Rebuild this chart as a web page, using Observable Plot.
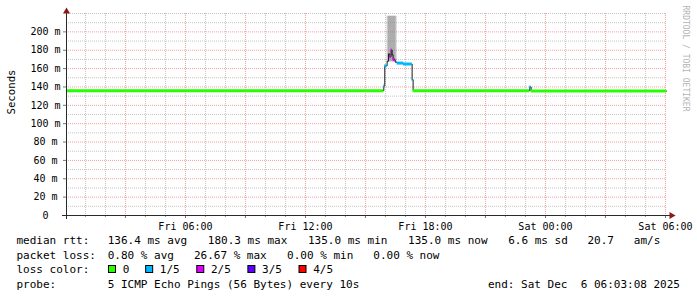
<!DOCTYPE html>
<html><head><meta charset="utf-8">
<script src="https://cdn.jsdelivr.net/npm/d3@7"></script>
<script src="https://cdn.jsdelivr.net/npm/@observablehq/plot@0.6"></script>
<style>
html,body{margin:0;padding:0;background:#fff;}
#chart{position:relative;width:697px;height:297px;overflow:hidden;background:#fff;}
#chart svg{display:block;}
.leg text{white-space:pre;font-family:"DejaVu Sans Mono",monospace;font-size:11px;fill:#000;}
</style></head><body><div id="chart"></div>
<script>
// ---- data ----
const rangeStart = "2025-12-05T00:03:08Z";
const rangeEnd = "2025-12-06T06:03:08Z";
const medianTimes = [
  "2025-12-05T00:03:08Z","2025-12-05T15:55:00Z","2025-12-05T15:58:00Z","2025-12-05T16:05:00Z",
  "2025-12-05T16:09:00Z","2025-12-05T16:13:00Z","2025-12-05T16:17:00Z","2025-12-05T16:20:00Z",
  "2025-12-05T16:23:00Z","2025-12-05T16:29:00Z","2025-12-05T16:35:00Z","2025-12-05T16:54:00Z",
  "2025-12-05T17:20:00Z","2025-12-05T17:23:00Z","2025-12-05T23:13:00Z","2025-12-05T23:17:00Z",
  "2025-12-06T06:03:08Z"
];
const medianMs = [136, 141, 163, 168, 176, 173, 180.3, 175, 170, 167, 166, 165, 148, 136, 140, 135.5, 135.5];
const medianLoss = [0, 1, 1, null, null, 2, 2, null, 2, null, 1, 1, 1, 0, 1, 0, 0];
const smokeStart = ["2025-12-05T16:05:00Z","2025-12-05T16:09:00Z"];
const smokeEnd = ["2025-12-05T16:35:00Z","2025-12-05T16:31:00Z"];
const smokeLowMs = [167, 168];
const smokeHighMs = [217, 217];
const lossColors = ["#26ff00","#00b8ff","#dd00ff","#5e00ff","#ff0000"];
const lossLabels = ["0","1/5","2/5","3/5","4/5"];
const xTickTimes = ["2025-12-05T06:00:00Z","2025-12-05T12:00:00Z","2025-12-05T18:00:00Z","2025-12-06T00:00:00Z","2025-12-06T06:00:00Z"];
const xTickLabels = ["Fri 06:00","Fri 12:00","Fri 18:00","Sat 00:00","Sat 06:00"];
const yTicksMs = [0,20,40,60,80,100,120,140,160,180,200];
const yTickLabels = ["0","20 m","40 m","60 m","80 m","100 m","120 m","140 m","160 m","180 m","200 m"];
const yMaxMs = 220;
const yAxisTitle = "Seconds";
const watermark = "RRDTOOL / TOBI OETIKER";
const rttLegend = ["median rtt:","136.4 ms avg","180.3 ms max","135.0 ms min","135.0 ms now","6.6 ms sd","20.7   am/s"];
const lossLegend = ["packet loss:","0.80 % avg","26.67 % max","0.00 % min","0.00 % now"];
const colorLegendTitle = "loss color:";
const probeLegend = ["probe:","5 ICMP Echo Pings (56 Bytes) every 10s"];
const endLegend = "end: Sat Dec  6 06:03:08 2025";

// ---- derived ----
const t0 = new Date(rangeStart), t1 = new Date(rangeEnd);
const T = medianTimes.map(s => new Date(s));
const segIdx = d3.range(T.length - 1).filter(i => medianLoss[i] != null);
const allIdx = d3.range(T.length);
const smokeIdx = d3.range(smokeStart.length);
const hours = d3.utcHour.every(1).range(t0, t1);
const majorHours = hours.filter(d => d.getUTCHours() % 3 === 0);
const minorHours = hours.filter(d => d.getUTCHours() % 3 !== 0);
const majorY = d3.range(20, yMaxMs, 20);
const minorY = d3.range(10, yMaxMs + 1, 10).filter(v => v % 20 !== 0 || v === yMaxMs);
const xLabelMap = new Map(xTickTimes.map((s, i) => [new Date(s).getTime(), xTickLabels[i]]));
const yLabelMap = new Map(yTicksMs.map((v, i) => [v, yTickLabels[i]]));

const W = 697, H = 232;
const dots = "1,1";
const plot = Plot.plot({
  width: W, height: H,
  marginLeft: 66, marginRight: 31, marginTop: 13, marginBottom: 17,
  x: {type: "utc", domain: [t0, t1]},
  y: {domain: [0, yMaxMs]},
  color: {type: "identity"},
  style: {fontFamily: "'DejaVu Sans Mono', monospace", fontSize: "10px", background: "#fff", color: "#000", overflow: "visible"},
  marks: [
    Plot.gridX(minorHours, {stroke: "#c4c4c4", strokeOpacity: 1, strokeDasharray: dots}),
    Plot.gridY(minorY, {stroke: "#c4c4c4", strokeOpacity: 1, strokeDasharray: dots}),
    Plot.gridX(majorHours, {stroke: "#f2a0a0", strokeOpacity: 1, strokeDasharray: dots}),
    Plot.gridY(majorY, {stroke: "#f2a0a0", strokeOpacity: 1, strokeDasharray: dots}),
    Plot.rect(smokeIdx, {x1: i => new Date(smokeStart[i]), x2: i => new Date(smokeEnd[i]),
      y1: i => smokeLowMs[i], y2: i => smokeHighMs[i], fill: "#8a8a8a", fillOpacity: 0.45}),
    Plot.line(allIdx, {x: i => T[i], y: i => medianMs[i], curve: "step-after", stroke: "#1a1a1a", strokeWidth: 1}),
    Plot.ruleY(segIdx, {y: i => medianMs[i], x1: i => T[i], x2: i => T[i + 1],
      stroke: i => lossColors[medianLoss[i]], strokeWidth: 3}),
    // axes
    Plot.axisX(minorHours, {tickFormat: () => "", tickSize: 2, stroke: "#999"}),
    Plot.axisX(majorHours, {tickFormat: d => xLabelMap.get(d.getTime()) || "", tickSize: 3, tickPadding: 4, stroke: "#777", fontSize: 10}),
    Plot.axisY(yTicksMs, {tickFormat: d => yLabelMap.get(d), tickSize: 3, tickPadding: 18, textAnchor: "middle", stroke: "#777", fontSize: 10, label: null}),
    Plot.ruleY([0], {stroke: "#2a2a2a", insetLeft: -4, insetRight: -4}),
    Plot.ruleX([t0], {stroke: "#2a2a2a", insetTop: -3, insetBottom: -4}),
    Plot.dot([t1], {x: d => d, y: () => 0, symbol: "triangle", r: 2.6, fill: "#8b1a1a", stroke: null, rotate: 90, dx: 5}),
    Plot.dot([t0], {x: d => d, y: () => yMaxMs, symbol: "triangle", r: 2.6, fill: "#8b1a1a", stroke: null, dy: -2}),
    Plot.text([yAxisTitle], {frameAnchor: "left", dx: -55, rotate: -90, fontSize: 10.7, fill: "#000"}),
    Plot.text([watermark], {frameAnchor: "top-right", dx: 22, dy: -8, rotate: 90, textAnchor: "start", fontSize: 8, fill: "#b4b4b4"})
  ]
});
const chart = document.getElementById("chart");
chart.appendChild(plot);

// ---- legend below the plot ----
const CW = 6.97, GAP = 16.5, X0 = 16.5, COL = 107.7;
const leg = d3.select(chart).append("svg").attr("class", "leg")
  .attr("width", W).attr("height", 297 - H);
const base = [12, 26.5, 41, 55.5];
function row(items, y) {
  leg.append("text").attr("x", X0).attr("y", y).text(items[0]);
  let x = COL;
  items.slice(1).forEach(s => {
    leg.append("text").attr("x", x).attr("y", y).text(s);
    x += s.length * CW + GAP;
  });
}
row(rttLegend, base[0]);
row(lossLegend, base[1]);
leg.append("text").attr("x", X0).attr("y", base[2]).text(colorLegendTitle);
let sx = 108;
lossLabels.forEach((lab, i) => {
  leg.append("rect").attr("x", sx + 0.5).attr("y", base[2] - 7.5).attr("width", 7).attr("height", 7)
    .attr("fill", lossColors[i]).attr("stroke", "#000").attr("stroke-width", 1);
  leg.append("text").attr("x", sx + 14.7).attr("y", base[2]).text(lab);
  sx += 14.7 + lab.length * CW + 15.5;
});
row(probeLegend, base[3]);
leg.append("text").attr("x", 680).attr("y", base[3]).attr("text-anchor", "end").text(endLegend);
</script></body></html>
